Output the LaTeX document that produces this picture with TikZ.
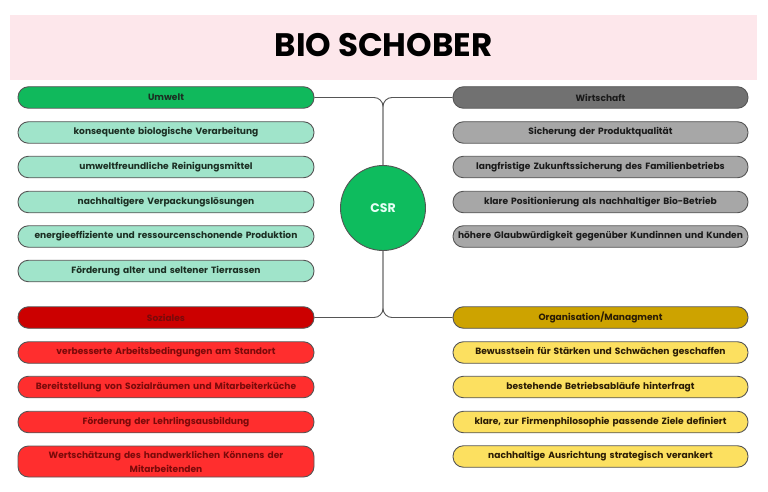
\documentclass[tikz,border=0pt]{standalone}
\usepackage{fontspec}
\setmainfont{Poppins}
\definecolor{band}{HTML}{FDE7EB}
\definecolor{bordergray}{HTML}{555555}
\definecolor{gHead}{HTML}{10B95C}
\definecolor{gItem}{HTML}{A0E4CA}
\definecolor{gText}{HTML}{1B2E22}
\definecolor{wHead}{HTML}{717171}
\definecolor{wItem}{HTML}{A7A7A7}
\definecolor{wText}{HTML}{1A1A1A}
\definecolor{sHead}{HTML}{CC0000}
\definecolor{sItem}{HTML}{FF2E2E}
\definecolor{sText}{HTML}{7A0A0A}
\definecolor{oHead}{HTML}{CDA300}
\definecolor{oItem}{HTML}{FCE060}
\definecolor{oText}{HTML}{2A1C05}
\definecolor{csrG}{HTML}{0EBC5E}
\definecolor{csrT}{HTML}{E6FFF6}
\tikzset{
  pill/.style={draw=bordergray, line width=0.9pt, rounded corners=10.5pt,
    minimum height=21.5pt, text width=290pt, align=center,
    font=\bfseries\fontsize{9.1pt}{14pt}\selectfont, inner sep=1pt},
  lbox/.style={pill, minimum width=296pt},
  rbox/.style={pill, minimum width=295pt},
  conn/.style={draw=bordergray, line width=0.9pt, rounded corners=9pt},
}
\begin{document}
\begin{tikzpicture}[x=1pt,y=-1pt]
\useasboundingbox (0,0) rectangle (768,492);
\fill[band] (10,15) rectangle (757,80);
\node[font=\bfseries\fontsize{32.5pt}{32.5pt}\selectfont, inner sep=0pt] (title) at (383.5,45.5) {BIO SCHOBER};

\node[circle, draw=bordergray, line width=0.9pt, fill=csrG, minimum size=85pt,
  text=csrT, font=\bfseries\fontsize{12.5pt}{12.5pt}\selectfont] (csr) at (383,208) {CSR};

% Umwelt
\node[lbox, fill=gHead, text=gText] (umwelt) at (166,97.5) {Umwelt};
\node[lbox, fill=gItem, text=gText] (u1) at (166,132.5) {konsequente biologische Verarbeitung};
\node[lbox, fill=gItem, text=gText] (u2) at (166,167) {umweltfreundliche Reinigungsmittel};
\node[lbox, fill=gItem, text=gText] (u3) at (166,202) {nachhaltigere Verpackungslösungen};
\node[lbox, fill=gItem, text=gText] (u4) at (166,236.5) {energieeffiziente und ressourcenschonende Produktion};
\node[lbox, fill=gItem, text=gText] (u5) at (166,271) {Förderung alter und seltener Tierrassen};

% Wirtschaft
\node[rbox, fill=wHead, text=wText] (wirt) at (600.5,97.5) {Wirtschaft};
\node[rbox, fill=wItem, text=wText] (w1) at (600.5,132.5) {Sicherung der Produktqualität};
\node[rbox, fill=wItem, text=wText] (w2) at (600.5,167) {langfristige Zukunftssicherung des Familienbetriebs};
\node[rbox, fill=wItem, text=wText] (w3) at (600.5,202) {klare Positionierung als nachhaltiger Bio-Betrieb};
\node[rbox, fill=wItem, text=wText] (w4) at (600.5,236.5) {höhere Glaubwürdigkeit gegenüber Kundinnen und Kunden};

% Soziales
\node[lbox, fill=sHead, text=sText] (sozial) at (166,317.5) {Soziales};
\node[lbox, fill=sItem, text=sText] (s1) at (166,352.5) {verbesserte Arbeitsbedingungen am Standort};
\node[lbox, fill=sItem, text=sText] (s2) at (166,387) {Bereitstellung von Sozialräumen und Mitarbeiterküche};
\node[lbox, fill=sItem, text=sText] (s3) at (166,422) {Förderung der Lehrlingsausbildung};
\node[lbox, fill=sItem, text=sText, minimum height=31pt] (s4) at (166,461.5) {Wertschätzung des handwerklichen Könnens der\\Mitarbeitenden};

% Organisation
\node[rbox, fill=oHead, text=oText] (orga) at (600.5,317.5) {Organisation/Managment};
\node[rbox, fill=oItem, text=oText] (o1) at (600.5,352.5) {Bewusstsein für Stärken und Schwächen geschaffen};
\node[rbox, fill=oItem, text=oText] (o2) at (600.5,387) {bestehende Betriebsabläufe hinterfragt};
\node[rbox, fill=oItem, text=oText] (o3) at (600.5,422) {klare, zur Firmenphilosophie passende Ziele definiert};
\node[rbox, fill=oItem, text=oText] (o4) at (600.5,456.5) {nachhaltige Ausrichtung strategisch verankert};

% connectors
\draw[conn] (umwelt.east) -| (csr.north);
\draw[conn] (wirt.west) -| (csr.north);
\draw[conn] (sozial.east) -| (csr.south);
\draw[conn] (orga.west) -| (csr.south);
\end{tikzpicture}
\end{document}
